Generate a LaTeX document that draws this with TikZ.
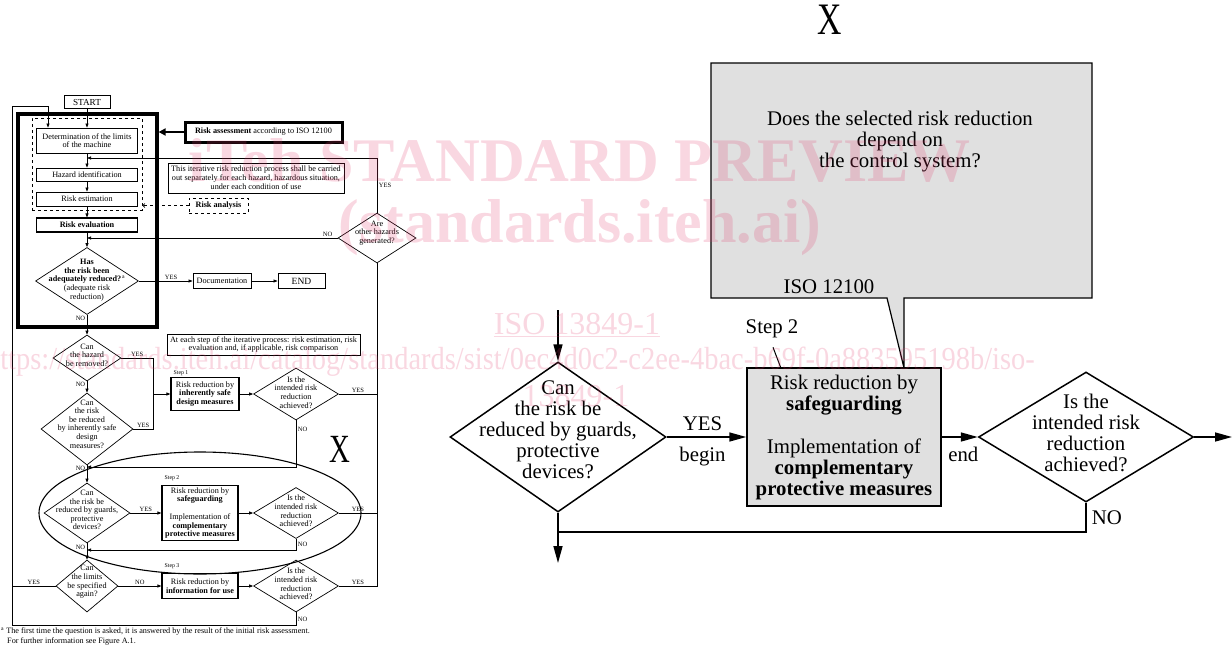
\documentclass[tikz,border=0pt]{standalone}
\usepackage{fontspec}
\setmainfont{Liberation Serif}
\usetikzlibrary{shapes.geometric, arrows.meta}
\usetikzlibrary{positioning}

\definecolor{wmpink}{RGB}{225,55,105}
\definecolor{boxgray}{RGB}{224,224,224}

\newcommand{\fsm}{\fontsize{8.2}{8.6}\selectfont}
\newcommand{\ftn}{\fontsize{6.5}{6.5}\selectfont}
\newcommand{\fst}{\fontsize{5.8}{5.8}\selectfont}
\newcommand{\ffn}{\fontsize{8.2}{8.2}\selectfont}
\newcommand{\fbg}{\fontsize{20.8}{21}\selectfont}

\tikzset{
  sbox/.style={draw, line width=0.8pt, inner sep=0pt, align=center, font=\fsm},
  sdia/.style={draw, diamond, line width=0.7pt, inner sep=0pt},
  stxt/.style={align=center, font=\fsm, inner sep=0pt},
  lbl/.style={font=\ftn, inner sep=1.5pt},
  sarr/.style={line width=0.7pt, -{Triangle[length=4pt,width=3pt]}},
  sline/.style={line width=0.7pt},
  bbox/.style={draw, line width=1.5pt, fill=boxgray, inner sep=0pt, align=center, font=\fbg},
  bdia/.style={draw, diamond, line width=1.5pt, inner sep=0pt},
  btxt/.style={align=center, font=\fbg, inner sep=0pt},
  barr/.style={line width=1.6pt, -{Triangle[length=17pt,width=9pt]}},
  bline/.style={line width=1.6pt},
  blbl/.style={font=\fbg, inner sep=2pt},
  wm/.style={text=wmpink, text opacity=0.2, inner sep=0pt}
}

\begin{document}
\begin{tikzpicture}[x=1pt,y=-1pt]
\useasboundingbox (0,0) rectangle (1232,648);

% left chart: risk assessment
\node[draw, line width=3.2pt, minimum width=139pt, minimum height=213pt, inner sep=0pt] (frame) at (87.5,220.5) {};
\node[draw, dashed, line width=0.8pt, minimum width=110pt, minimum height=92pt, inner sep=0pt] (danal) at (87,164) {};
\node[sbox, font=\fontsize{9.2}{9.2}\selectfont, minimum width=46pt, minimum height=13pt] (start) at (87,102) {START};
\node[sbox, minimum width=101pt, minimum height=25pt] (det) at (87,140.5) {Determination of the limits\\of the machine};
\node[sbox, minimum width=101pt, minimum height=13pt] (hazid) at (87,174.5) {Hazard identification};
\node[sbox, minimum width=101pt, minimum height=14pt] (riskest) at (87,199) {Risk estimation};
\node[sbox, line width=1.1pt, minimum width=101pt, minimum height=14pt] (riskeval) at (87,225) {\textbf{Risk evaluation}};
\node[sdia, minimum width=103pt, minimum height=67pt] (hasrisk) at (87,281) {};
\node[stxt] (hasrisktxt) at (87,280) {\textbf{Has}\\\textbf{the risk been}\\\textbf{adequately reduced?}\textsuperscript{\,a}\\(adequate risk\\reduction)};
\node[sbox, minimum width=58pt, minimum height=15pt] (doc) at (222,281) {Documentation};
\node[sbox, font=\fontsize{9.5}{9.5}\selectfont, minimum width=47pt, minimum height=15pt] (endbox) at (301.5,281) {END};
\node[sdia, minimum width=78pt, minimum height=50pt] (otherhaz) at (377,238) {};
\node[stxt] (otherhaztxt) at (377,233) {Are\\other hazards\\generated?};
\node[sbox, font=\fontsize{8.2}{9}\selectfont, minimum width=176pt, minimum height=30pt] (iter) at (256,178) {This iterative risk reduction process shall be carried\\out separately for each hazard, hazardous situation,\\under each condition of use};
\node[sbox, dashed, minimum width=59pt, minimum height=15pt] (ranal) at (218.5,205.5) {\textbf{Risk analysis}};
\node[sbox, line width=3pt, minimum width=157pt, minimum height=20pt] (riskass) at (263.5,132) {\textbf{Risk assessment} according to ISO 12100};

% left chart: risk reduction
\node[sbox, minimum width=193pt, minimum height=21pt] (ateach) at (263.5,344.5) {At each step of the iterative process: risk estimation, risk\\evaluation and, if applicable, risk comparison};
\node[sdia, minimum width=68pt, minimum height=46pt] (hazard) at (87,358) {};
\node[stxt] (hazardtxt) at (87,355) {Can\\the hazard\\be removed?};
\node[sdia, minimum width=92pt, minimum height=72pt] (inherent) at (87,429) {};
\node[stxt] (inherenttxt) at (87,424) {Can\\the risk\\be reduced\\by inherently safe\\design\\measures?};
\node[sbox, line width=1.2pt, minimum width=68pt, minimum height=33pt] (step1) at (205,394) {Risk reduction by\\\textbf{inherently safe}\\\textbf{design measures}};
\node[sdia, minimum width=85pt, minimum height=52pt] (check1) at (296,394) {};
\node[stxt] (check1txt) at (296,392.5) {Is the\\intended risk\\reduction\\achieved?};
\node[sdia, minimum width=86pt, minimum height=60pt] (guards) at (87,513) {};
\node[stxt] (guardstxt) at (87,510) {Can\\the risk be\\reduced by guards,\\protective\\devices?};
\node[sbox, line width=1.2pt, minimum width=76pt, minimum height=55pt] (step2) at (200,513) {Risk reduction by\\\textbf{safeguarding}\\[9pt]Implementation of\\\textbf{complementary}\\\textbf{protective measures}};
\node[sdia, minimum width=85pt, minimum height=51pt] (check2) at (296,513) {};
\node[stxt] (check2txt) at (296,511) {Is the\\intended risk\\reduction\\achieved?};
\node[sdia, minimum width=62pt, minimum height=52pt] (limits) at (87,586) {};
\node[stxt] (limitstxt) at (87,582) {Can\\the limits\\be specified\\again?};
\node[sbox, line width=1.2pt, minimum width=76pt, minimum height=25pt] (step3) at (200,586) {Risk reduction by\\\textbf{information for use}};
\node[sdia, minimum width=85pt, minimum height=52pt] (check3) at (296,586) {};
\node[stxt] (check3txt) at (296,584) {Is the\\intended risk\\reduction\\achieved?};
\node[font=\fst] (s1lbl) at (181,373) {Step 1};
\node[font=\fst] (s2lbl) at (172,478) {Step 2};
\node[font=\fst] (s3lbl) at (172,566) {Step 3};
\draw[line width=1.1pt] (200,513) ellipse [x radius=161, y radius=61];
\node[font=\fontsize{40}{40}\selectfont] (xleft) at (340,449) {\scalebox{0.72}[1]{X}};

% junctions
\coordinate (jtop) at (48,106);
\coordinate (jleft) at (12,106);
\coordinate (jbot) at (12,625);
\coordinate (jyes1) at (87,158);
\coordinate (jno1) at (87,238);
\coordinate (jret1) at (87,467);
\coordinate (jret2) at (87,550);
\coordinate (jsplit) at (153,394);

\draw[sarr] (start) -- (det);
\draw[sarr] (det) -- (hazid);
\draw[sarr] (hazid) -- (riskest);
\draw[sarr] (riskest) -- (riskeval);
\draw[sarr] (riskeval) -- (hasrisk);
\draw[sarr] (hasrisk.east) -- node[lbl, above, pos=0.6]{YES} (doc.west);
\draw[sarr] (doc) -- (endbox);
\draw[sarr] (otherhaz.north) |- node[lbl, right, pos=0.25]{YES} (jyes1);
\draw[sarr] (otherhaz.west) -- node[lbl, above, pos=0.04]{NO} (jno1);
\draw[line width=2.6pt, -{Triangle[length=7pt,width=7pt]}] (riskass.west) -- (riskass.west -| frame.east);
\draw[sline, dashed, -{Straight Barb[length=2pt]}] (ranal.west) -- (ranal.west -| danal.east);
\draw[sarr] (hasrisk) -- node[lbl, left, pos=0.2]{NO} (hazard);
\draw[sarr] (hazard) -- node[lbl, left, pos=0.3]{NO} (inherent);
\draw[sarr] (inherent) -- node[lbl, left, pos=0.2]{NO} (guards);
\draw[sarr] (guards) -- node[lbl, left, pos=0.25]{NO} (limits);
\draw[sline] (hazard.east) -- node[lbl, above]{YES} (hazard.east -| jsplit) -- (jsplit);
\draw[sline] (inherent.east) -- node[lbl, above]{YES} (inherent.east -| jsplit) -- (jsplit);
\draw[sarr] (jsplit) -- (step1);
\draw[sarr] (step1) -- (check1);
\draw[sline] (check1.east) -- node[lbl, above]{YES} (check1.east -| otherhaz.south);
\draw[sarr] (check1.south) -- node[lbl, right, pos=0.2]{NO} (check1.south |- jret1) -- (jret1);
\draw[sarr] (guards.east) -- node[lbl, above]{YES} (step2);
\draw[sarr] (step2) -- (check2);
\draw[sline] (check2.east) -- node[lbl, above]{YES} (check2.east -| otherhaz.south);
\draw[sarr] (check2.south) -- node[lbl, right, pos=0.5]{NO} (check2.south |- jret2) -- (jret2);
\draw[sarr] (limits.east) -- node[lbl, above]{NO} (step3);
\draw[sline] (limits.west) -- node[lbl, above]{YES} (limits.west -| jleft);
\draw[sarr] (step3) -- (check3);
\draw[sline] (check3.east) -- node[lbl, above]{YES} (check3.east -| otherhaz.south) -- (otherhaz.south);
\draw[sarr] (check3.south) -- node[lbl, right, pos=0.55]{NO} (check3.south |- jbot) -- (jbot) -- (jleft) -- (jtop) -- (jtop |- det.north);

% footnote
\node[font=\ffn, anchor=base west, inner sep=0pt] (fn1) at (1,633) {\textsuperscript{a}\ The first time the question is asked, it is answered by the result of the initial risk assessment.};
\node[font=\ffn, anchor=base west, inner sep=0pt] (fn2) at (7,643) {For further information see Figure A.1.};

% right chart: enlarged detail
\node[font=\fontsize{45}{45}\selectfont] (xright) at (830,20) {\scalebox{0.75}[1]{X}};
\draw[line width=1.2pt, fill=boxgray] (711,63) -- (1092,63) -- (1092,298) -- (904,298) -- (904,368) -- (887,298) -- (711,298) -- cycle;
\node[btxt] (ctext) at (900,142) {Does the selected risk reduction\\depend on\\the control system?};
\node[blbl] (isolbl) at (829,287) {ISO 12100};
\node[bdia, minimum width=216pt, minimum height=150pt] (rguards) at (558,437) {};
\node[btxt] (rguardstxt) at (558,430) {Can\\the risk be\\reduced by guards,\\protective\\devices?};
\node[bbox, minimum width=194pt, minimum height=138pt] (rstep2) at (844,437) {Risk reduction by\\\textbf{safeguarding}\\[22pt]Implementation of\\\textbf{complementary}\\\textbf{protective measures}};
\node[bdia, minimum width=215pt, minimum height=130pt] (rcheck) at (1086,437) {};
\node[btxt] (rchecktxt) at (1086,433) {Is the\\intended risk\\reduction\\achieved?};
\node[blbl] (rs2lbl) at (772,329) {Step 2};
\draw[line width=1pt] (rs2lbl.south) ++(1,7) -- ++(8,21);

\coordinate (rin) at (558,310);
\coordinate (rout) at (558,563);
\coordinate (rexit) at (1232,437);
\coordinate (rno) at (558,532);

\draw[barr] (rin) -- (rguards.north);
\draw[barr] (rguards.east) -- node[blbl, above=4pt, pos=0.45]{YES} node[blbl, below=7pt, pos=0.45]{begin} (rstep2.west);
\draw[barr] (rstep2.east) -- node[blbl, below=7pt, pos=0.6]{end} (rcheck.west);
\draw[barr] (rcheck.east) -- (rexit);
\draw[bline] (rcheck.south) -- node[blbl, right=3pt, pos=0.5]{NO} (rcheck.south |- rno) -- (rno);
\draw[barr] (rguards.south) -- (rout);

% watermark on top
\node[wm, font=\fontsize{62}{62}\selectfont\bfseries] (wm1) at (580,160) {iTeh STANDARD PREVIEW};
\node[wm, font=\fontsize{62}{62}\selectfont\bfseries] (wm2) at (580,228) {(standards.iteh.ai)};
\node[wm, font=\fontsize{32}{32}\selectfont] (wm3) at (577,325) {\underline{ISO 13849-1}};
\node[wm, font=\fontsize{32}{32}\selectfont, anchor=east] (wm4) at (1035,362) {\scalebox{0.89}[1]{https://standards.iteh.ai/catalog/standards/sist/0ec4d0c2-c2ee-4bac-b69f-0a883595198b/iso-}};
\node[wm, font=\fontsize{32}{32}\selectfont] (wm5) at (576,396) {13849-1};
\end{tikzpicture}
\end{document}
